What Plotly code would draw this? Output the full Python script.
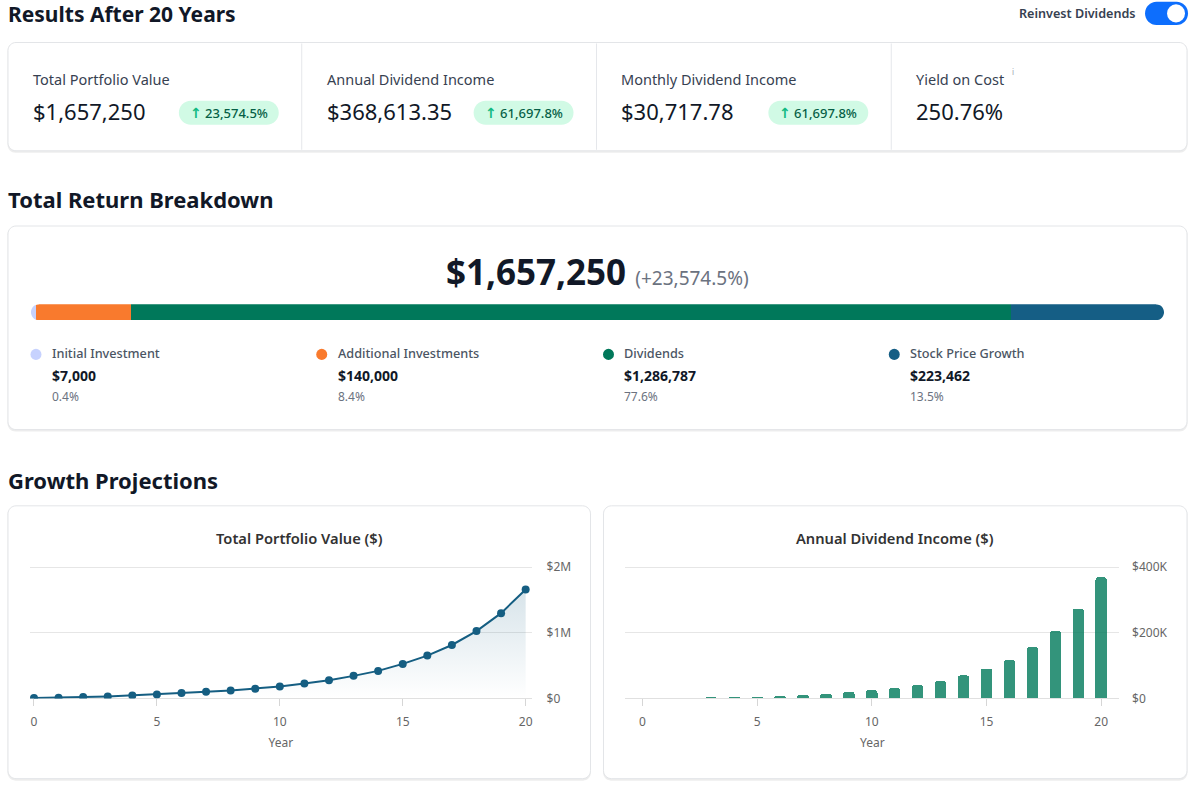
import plotly.graph_objects as go

W, H = 1199, 785
FONT = "Noto Sans"

# ---------------- data ----------------
years = list(range(21))
portfolio_value = [7000, 10000, 20000, 30000, 45000, 61000, 81000, 101000, 121000, 146000,
                   182000, 227000, 278000, 343000, 419000, 525000, 652000, 813000, 1025000,
                   1298000, 1657250]
annual_dividends = [0, 0, 1800, 2900, 4500, 5500, 8000, 11000, 14500, 20000, 25500,
                    31500, 40500, 52500, 70000, 91000, 117000, 156000, 205000, 273000,
                    368613.35]

breakdown_labels = ["Initial Investment", "Additional Investments", "Dividends", "Stock Price Growth"]
breakdown_values = [7000, 140000, 1286787, 223462]
breakdown_pcts = ["0.4%", "8.4%", "77.6%", "13.5%"]
breakdown_colors = ["#c7d2fe", "#f97a2d", "#00785a", "#155e85"]

metric_labels = ["Total Portfolio Value", "Annual Dividend Income", "Monthly Dividend Income", "Yield on Cost"]
metric_values = ["$1,657,250", "$368,613.35", "$30,717.78", "250.76%"]
metric_badges = ["23,574.5%", "61,697.8%", "61,697.8%", None]

portfolio_ticks = [0, 1000000, 2000000]
portfolio_ticktext = ["$0", "$1M", "$2M"]
dividend_ticks = [0, 200000, 400000]
dividend_ticktext = ["$0", "$200K", "$400K"]
year_ticks = [0, 5, 10, 15, 20]

total_value_text = "$1,657,250"
total_gain_text = "(+23,574.5%)"

# ---------------- helpers ----------------
S = 0.978          # vertical compensation
C = H / 2


def yl(y):
    return C + (y - C) / S


def fy(y):
    return 1 - yl(y) / H


def P(x, y):
    return f"{x / W:.6f},{fy(y):.6f}"


def rr_path(x0, y0, x1, y1, r):
    k = 0.5523 * r
    return (f"M {P(x0 + r, y0)} L {P(x1 - r, y0)} "
            f"C {P(x1 - r + k, y0)} {P(x1, y0 + r - k)} {P(x1, y0 + r)} "
            f"L {P(x1, y1 - r)} "
            f"C {P(x1, y1 - r + k)} {P(x1 - r + k, y1)} {P(x1 - r, y1)} "
            f"L {P(x0 + r, y1)} "
            f"C {P(x0 + r - k, y1)} {P(x0, y1 - r + k)} {P(x0, y1 - r)} "
            f"L {P(x0, y0 + r)} "
            f"C {P(x0, y0 + r - k)} {P(x0 + r - k, y0)} {P(x0 + r, y0)} Z")


shapes = []
annotations = []


def card(x0, y0, x1, y1, r=8):
    shapes.append(dict(type="path", xref="paper", yref="paper", layer="below",
                       path=rr_path(x0 - 0.5, y0 + 0.5, x1 + 0.5, y1 + 2, r),
                       fillcolor="rgba(0,0,0,0.07)", line=dict(width=0)))
    shapes.append(dict(type="path", xref="paper", yref="paper", layer="below",
                       path=rr_path(x0, y0, x1, y1, r),
                       fillcolor="white", line=dict(color="#e3e5e8", width=1)))


def text(x, y, t, size, color="#111827", weight=400, xanchor="left", yanchor="middle"):
    annotations.append(dict(x=x / W, y=fy(y), xref="paper", yref="paper", text=t,
                            showarrow=False, xanchor=xanchor, yanchor=yanchor,
                            font=dict(family=FONT, size=size, color=color, weight=weight)))


def circle(cx, cy, r, color):
    shapes.append(dict(type="circle", xref="paper", yref="paper", layer="below",
                       x0=(cx - r) / W, x1=(cx + r) / W, y0=fy(cy + r), y1=fy(cy - r),
                       fillcolor=color, line=dict(width=0)))


# ---------------- header ----------------
text(6, 16, "Results After 20 Years", 21, "#111827", 700)
text(1139, 15, "Reinvest Dividends", 12.6, "#374151", 600, xanchor="right")
shapes.append(dict(type="path", xref="paper", yref="paper", layer="below",
                   path=rr_path(1146, 3.5, 1189, 26.5, 11.5), fillcolor="#0d6efd", line=dict(width=0)))
circle(1177, 15, 9, "white")

# ---------------- metric card ----------------
card(8, 44, 1188, 152)
col_starts = [8, 302, 597, 892]
col_ends = [302, 597, 892, 1188]
for cx in col_starts[1:]:
    shapes.append(dict(type="line", xref="paper", yref="paper", layer="below",
                       x0=cx / W, x1=cx / W, y0=fy(151), y1=fy(45),
                       line=dict(color="#e5e7eb", width=1)))
for i, lab in enumerate(metric_labels):
    x = col_starts[i] + 23
    text(x, 80, lab, 14.5, "#374151")
    text(x, 112, metric_values[i], 22, "#111827")
    if metric_badges[i]:
        right = col_ends[i] - 23
        left = right - 100
        shapes.append(dict(type="path", xref="paper", yref="paper", layer="below",
                           path=rr_path(left, 102, right, 126, 12), fillcolor="#d1fae5",
                           line=dict(width=0)))
        text((left + right) / 2, 114,
             "<span style='color:#10b981;font-family:DejaVu Sans;font-size:14px;font-weight:700'>↑</span>"
             f" {metric_badges[i]}",
             13, "#065f46", 500, xanchor="center")
text(1011, 73, "i", 8, "#9ca3af")

# ---------------- breakdown ----------------
text(6, 200, "Total Return Breakdown", 22, "#111827", 700)
card(8, 227, 1188, 430)
text(598, 272,
     f"<b>{total_value_text}</b> <span style='font-size:19px;color:#6b7280'>{total_gain_text}</span>",
     35, "#111827", 400, xanchor="center")

legend_dot_x = [36, 322, 609, 895]
for i, lab in enumerate(breakdown_labels):
    dx = legend_dot_x[i]
    circle(dx, 355, 5.5, breakdown_colors[i])
    text(dx + 14, 354, lab, 12.7, "#4b5563", 500)
    text(dx + 14, 376, f"${breakdown_values[i]:,}", 14, "#111827", 700)
    text(dx + 14, 397, breakdown_pcts[i], 12, "#6b7280")

BAR_X0, BAR_X1, BAR_Y0, BAR_Y1 = 31, 1165, 305, 321
bar_total = sum(breakdown_values)

# rounded end masks
r = (BAR_Y1 - BAR_Y0) / 2
k = 0.5523 * r
yc = (BAR_Y0 + BAR_Y1) / 2
xl = BAR_X0
shapes.append(dict(type="path", xref="paper", yref="paper", layer="above",
                   path=(f"M {P(xl - 1, BAR_Y0 - 1)} L {P(xl + r, BAR_Y0 - 1)} L {P(xl + r, BAR_Y0)} "
                         f"C {P(xl + r - k, BAR_Y0)} {P(xl, yc - k)} {P(xl, yc)} "
                         f"C {P(xl, yc + k)} {P(xl + r - k, BAR_Y1)} {P(xl + r, BAR_Y1)} "
                         f"L {P(xl + r, BAR_Y1 + 1)} L {P(xl - 1, BAR_Y1 + 1)} Z"),
                   fillcolor="white", line=dict(width=0)))
xr = BAR_X1
shapes.append(dict(type="path", xref="paper", yref="paper", layer="above",
                   path=(f"M {P(xr + 1, BAR_Y0 - 1)} L {P(xr - r, BAR_Y0 - 1)} L {P(xr - r, BAR_Y0)} "
                         f"C {P(xr - r + k, BAR_Y0)} {P(xr, yc - k)} {P(xr, yc)} "
                         f"C {P(xr, yc + k)} {P(xr - r + k, BAR_Y1)} {P(xr - r, BAR_Y1)} "
                         f"L {P(xr - r, BAR_Y1 + 1)} L {P(xr + 1, BAR_Y1 + 1)} Z"),
                   fillcolor="white", line=dict(width=0)))

# ---------------- growth projections ----------------
text(6, 480, "Growth Projections", 22, "#111827", 700)
card(8, 506, 591, 778)
card(604, 506, 1188, 778)
text(299.5, 538, "Total Portfolio Value ($)", 14.7, "#333333", 600, xanchor="center")
text(896, 538, "Annual Dividend Income ($)", 14.7, "#333333", 600, xanchor="center")

fig = go.Figure()

# breakdown stacked bar
for i, lab in enumerate(breakdown_labels):
    fig.add_trace(go.Bar(x=[breakdown_values[i]], y=[0], orientation="h", width=1,
                         marker=dict(color=breakdown_colors[i], line=dict(width=0)),
                         name=lab, xaxis="x3", yaxis="y3", hoverinfo="skip"))

# portfolio line
fig.add_trace(go.Scatter(x=years, y=portfolio_value, mode="lines+markers",
                         line=dict(color="#155e82", width=2),
                         marker=dict(size=8, color="#155e82"),
                         fill="tozeroy",
                         fillgradient=dict(type="vertical",
                                           colorscale=[[0, "rgba(21,94,130,0.0)"],
                                                       [1, "rgba(21,94,130,0.17)"]]),
                         xaxis="x", yaxis="y", name="Portfolio"))

# dividend bars
fig.add_trace(go.Bar(x=years, y=annual_dividends, width=0.5,
                     marker=dict(color="rgba(0,121,90,0.8)", cornerradius=3, line=dict(width=0)),
                     xaxis="x2", yaxis="y2", name="Dividends"))

axis_font = dict(family=FONT, size=12, color="#666666")
common_x = dict(tickvals=year_ticks, ticks="outside", ticklen=7, tickcolor="#d6d6d6",
                showgrid=False, zeroline=False, showline=False, tickfont=axis_font,
                ticklabelstandoff=5,
                title=dict(text="Year", font=dict(family=FONT, size=12, color="#666666"), standoff=9),
                fixedrange=True)
common_y = dict(side="right", showgrid=True, gridcolor="#e6e6e6", zeroline=True,
                zerolinecolor="#e0e0e0", zerolinewidth=1, ticks="", tickfont=axis_font,
                fixedrange=True)

PLOT_BOT = 698
PX_PER_STEP = 131            # pixel height from $0 to the top tick
PAD = 0.01                   # head-room so the top gridline is drawn
PLOT_TOP = PLOT_BOT - PX_PER_STEP * (1 + PAD)

fig.update_layout(
    width=W, height=H,
    margin=dict(l=0, r=0, t=0, b=0),
    paper_bgcolor="white", plot_bgcolor="rgba(0,0,0,0)",
    showlegend=False, barmode="stack",
    font=dict(family=FONT),
    shapes=shapes, annotations=annotations,
    xaxis=dict(domain=[30 / W, 532 / W], range=[-0.163, 20.24], anchor="y", **common_x),
    yaxis=dict(domain=[fy(PLOT_BOT), fy(PLOT_TOP)], range=[0, portfolio_ticks[-1] * (1 + PAD)],
               anchor="x", tickvals=portfolio_ticks, ticktext=portfolio_ticktext,
               ticklabelstandoff=14, **common_y),
    xaxis2=dict(domain=[626 / W, 1120 / W], range=[-0.74, 20.78], anchor="y2", **common_x),
    yaxis2=dict(domain=[fy(PLOT_BOT), fy(PLOT_TOP)], range=[0, dividend_ticks[-1] * (1 + PAD)],
                anchor="x2", tickvals=dividend_ticks, ticktext=dividend_ticktext,
                ticklabelstandoff=12, **common_y),
    xaxis3=dict(domain=[BAR_X0 / W, BAR_X1 / W], range=[0, bar_total], anchor="y3",
                visible=False, fixedrange=True),
    yaxis3=dict(domain=[fy(BAR_Y1), fy(BAR_Y0)], range=[-0.5, 0.5], anchor="x3",
                visible=False, fixedrange=True),
)

fig.write_html("out.html")
